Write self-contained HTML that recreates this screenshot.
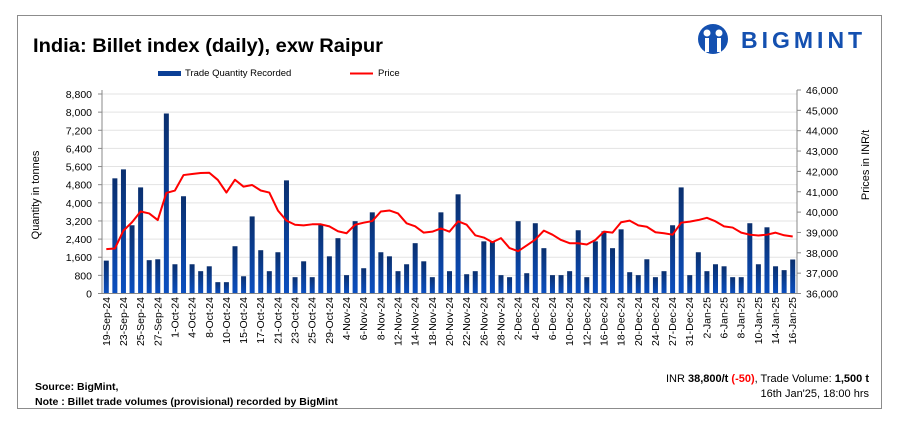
<!DOCTYPE html>
<html><head><meta charset="utf-8">
<style>
html,body{margin:0;padding:0;background:#fff;}
body{width:905px;height:436px;position:relative;overflow:hidden;font-family:"Liberation Sans",sans-serif;}
svg{position:absolute;left:0;top:0;}
</style></head>
<body>
<svg id="c" width="905" height="436" xmlns="http://www.w3.org/2000/svg">
<defs><linearGradient id="bg" x1="0" y1="0" x2="0" y2="1"><stop offset="0" stop-color="#0a2f6e"/><stop offset="1" stop-color="#0b4fc0"/></linearGradient></defs>
<rect x="17.5" y="15.5" width="864" height="393" fill="#fff" stroke="#8c8c8c" stroke-width="1"/>
<text x="33" y="52" font-size="19" font-weight="bold" fill="#000" textLength="350" lengthAdjust="spacingAndGlyphs">India: Billet index (daily), exw Raipur</text>
<g>
<circle cx="713" cy="39" r="15" fill="#1450b0"/>
<circle cx="707" cy="33" r="3.5" fill="#fff"/><circle cx="719" cy="33" r="3.5" fill="#fff"/>
<rect x="705" y="38" width="4" height="14" fill="#fff"/><rect x="717" y="38" width="4" height="14" fill="#fff"/>
<text x="741" y="48" font-size="23" font-weight="bold" fill="#1450b0" letter-spacing="4">BIGMINT</text>
</g>
<g>
<rect x="158" y="71" width="23" height="5" fill="#0b3f96"/>
<text x="185" y="76" font-size="9.5" fill="#000">Trade Quantity Recorded</text>
<line x1="350" y1="73.5" x2="373" y2="73.5" stroke="#ff0000" stroke-width="2"/>
<text x="378" y="76" font-size="9.5" fill="#000">Price</text>
</g>
<g id="grid"></g><g id="bars"></g><g id="line"></g><g id="axes"></g>
<text transform="translate(39,195) rotate(-90)" text-anchor="middle" font-size="11" fill="#000">Quantity in tonnes</text>
<text transform="translate(869,165) rotate(-90)" text-anchor="middle" font-size="11" fill="#000">Prices in INR/t</text>
<text x="35" y="390" font-size="10.5" font-weight="bold" fill="#000">Source: BigMint,</text>
<text x="35" y="405" font-size="10.5" font-weight="bold" fill="#000">Note : Billet trade volumes (provisional) recorded by BigMint</text>
<text x="869" y="382" text-anchor="end" font-size="11" fill="#000">INR <tspan font-weight="bold">38,800/t</tspan> <tspan fill="#ff0000" font-weight="bold">(-50)</tspan>, Trade Volume: <tspan font-weight="bold">1,500 t</tspan></text>
<text x="869" y="397" text-anchor="end" font-size="11" fill="#000">16th Jan'25, 18:00 hrs</text>
</svg>
<script>
const xLabels=["19-Sep-24","23-Sep-24","25-Sep-24","27-Sep-24","1-Oct-24","4-Oct-24","8-Oct-24","10-Oct-24","15-Oct-24","17-Oct-24","21-Oct-24","23-Oct-24","25-Oct-24","29-Oct-24","4-Nov-24","6-Nov-24","8-Nov-24","12-Nov-24","14-Nov-24","18-Nov-24","20-Nov-24","22-Nov-24","26-Nov-24","28-Nov-24","2-Dec-24","4-Dec-24","6-Dec-24","10-Dec-24","12-Dec-24","16-Dec-24","18-Dec-24","20-Dec-24","24-Dec-24","27-Dec-24","31-Dec-24","2-Jan-25","6-Jan-25","8-Jan-25","10-Jan-25","14-Jan-25","16-Jan-25"];
const quantity=[1450,5080,5475,3010,4680,1470,1510,7940,1290,4290,1290,985,1200,500,500,2085,760,3400,1910,985,1820,4990,720,1420,720,3050,1640,2440,810,3190,1115,3580,1820,1640,985,1290,2220,1420,720,3580,985,4375,850,985,2300,2300,810,720,3190,895,3100,2000,810,810,985,2790,720,2300,2745,2000,2830,940,810,1510,720,985,3010,4680,810,1820,985,1290,1200,720,720,3100,1290,2920,1200,1030,1500];
const price=[38180,38210,39090,39500,40030,39935,39610,40940,41060,41820,41870,41920,41935,41580,40960,41590,41250,41330,41060,40960,40080,39580,39380,39350,39400,39400,39300,39060,38960,39380,39480,39560,40030,40080,39935,39450,39300,38990,39040,39200,39040,39545,39380,38860,38750,38520,38720,38230,38080,38360,38650,39090,38890,38630,38470,38470,38410,38630,39040,38990,39500,39580,39350,39280,39010,38960,38890,39480,39530,39610,39720,39545,39300,39240,38990,38890,38850,38890,38990,38860,38800];
const leftTicks=[0,800,1600,2400,3200,4000,4800,5600,6400,7200,8000,8800];
const rightTicks=[36000,37000,38000,39000,40000,41000,42000,43000,44000,45000,46000];
const NS="http://www.w3.org/2000/svg";
const X0=102,X1=797,Y0=293.5;
const n=quantity.length, step=(X1-X0)/n;
const xPos=i=>X0+step*(i+0.5);
const yL=v=>Y0-v/8800*199.5;
const yR=v=>Y0-(v-36000)/10000*203.5;
function mk(t,a,p){const e=document.createElementNS(NS,t);for(const k in a)e.setAttribute(k,a[k]);p.appendChild(e);return e;}
const grid=document.getElementById('grid'),bars=document.getElementById('bars'),line=document.getElementById('line'),axes=document.getElementById('axes');
leftTicks.forEach(v=>{
 if(v>0){const g=mk('line',{x1:X0,x2:X1,y1:yL(v),y2:yL(v),stroke:'#e3e3e3','stroke-width':1},grid);
 
 }
 const t=mk('text',{x:92,y:yL(v)+4,'text-anchor':'end','font-size':10.5,fill:'#000'},axes);t.textContent=v.toLocaleString('en-US');
 
 
 mk('line',{x1:X0-4,x2:X0,y1:yL(v),y2:yL(v),stroke:'#888'},axes);
});
rightTicks.forEach(v=>{
 const t=mk('text',{x:806,y:yR(v)+4,'font-size':10.5,fill:'#000'},axes);t.textContent=v.toLocaleString('en-US');
 
 
 mk('line',{x1:X1,x2:X1+4,y1:yR(v),y2:yR(v),stroke:'#888'},axes);
});
quantity.forEach((v,i)=>{
 const b=mk('rect',{x:xPos(i)-2.5,y:yL(v),width:5,height:Y0-yL(v),fill:'url(#bg)'},bars);
 
 
});
const pl=mk('polyline',{points:price.map((v,i)=>xPos(i)+','+yR(v)).join(' '),fill:'none',stroke:'#ff0000','stroke-width':2,'stroke-linejoin':'round'},line);


mk('line',{x1:X0,x2:X0,y1:90,y2:Y0,stroke:'#888'},axes);
mk('line',{x1:X1,x2:X1,y1:90,y2:Y0,stroke:'#888'},axes);
mk('line',{x1:X0,x2:X1,y1:Y0,y2:Y0,stroke:'#888'},axes);
xLabels.forEach((s,j)=>{
 const x=xPos(j*2);
 const t=mk('text',{transform:`translate(${x+3.5},297) rotate(-90)`,'text-anchor':'end','font-size':10.5,fill:'#000'},axes);t.textContent=s;
 
 
});
</script>
</body></html>
